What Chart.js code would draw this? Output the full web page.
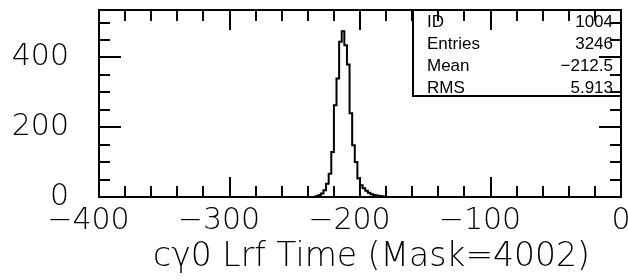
<!DOCTYPE html>
<html>
<head>
<meta charset="utf-8">
<script src="https://cdn.jsdelivr.net/npm/chart.js@4.4.1/dist/chart.umd.min.js"></script>
<style>
  html, body { margin: 0; padding: 0; background: #fff; }
  #wrap { width: 628px; height: 280px; }
</style>
</head>
<body>
<div id="wrap"><canvas id="myChart"></canvas></div>
<script>
// histogram: bin centres (bin width 2) and entries per bin
const binCenters = [-237, -235, -233, -231, -229, -227, -225, -223, -221, -219, -217, -215,
  -213, -211, -209, -207, -205, -203, -201, -199, -197, -195, -193, -191, -189, -187,
  -185, -183, -181, -179, -177];
const counts = [0, 0, 2, 5, 10, 19, 38, 67, 129, 263, 340, 445,
  475, 435, 380, 240, 148, 100, 53, 34, 25, 18, 12, 8, 6, 4,
  3, 2, 1, 0, 0];

const xTickValues = [-400, -300, -200, -100, 0];
const yTickValues = [0, 200, 400];
const xTitle = "c\u03b30 Lrf Time (Mask=4002)";

const statLabels = ["ID", "Entries", "Mean", "RMS"];
const statValues = ["1004", "3246", "\u2212212.5", "5.913"];

const mainFont = "'DejaVu Sans', 'Liberation Sans', sans-serif";

// inward ticks on all four sides + frame
const frameTicks = {
  id: "frameTicks",
  afterDraw(chart) {
    const { ctx, chartArea: a, scales: { x, y } } = chart;
    ctx.save();
    ctx.strokeStyle = "#000";
    ctx.lineWidth = 2;
    ctx.beginPath();
    for (let v = -400; v <= 0; v += 20) {
      const px = Math.round(x.getPixelForValue(v));
      const len = v % 100 === 0 ? 20 : 11;
      ctx.moveTo(px, a.bottom);
      ctx.lineTo(px, a.bottom - len);
      ctx.moveTo(px, a.top);
      ctx.lineTo(px, a.top + len);
    }
    for (let v = 50; v < 536; v += 50) {
      const py = Math.round(y.getPixelForValue(v));
      const len = v % 200 === 0 ? 22 : 11;
      ctx.moveTo(a.left, py);
      ctx.lineTo(a.left + len, py);
      ctx.moveTo(a.right, py);
      ctx.lineTo(a.right - len, py);
    }
    ctx.stroke();
    ctx.strokeRect(a.left, a.top, a.right - a.left, a.bottom - a.top);
    ctx.restore();
  },
};

// stats box, top right
const statBox = {
  id: "statBox",
  afterDraw(chart) {
    const { ctx, chartArea: a } = chart;
    const left = 413, bottom = 96;
    ctx.save();
    ctx.strokeStyle = "#000";
    ctx.lineWidth = 2;
    ctx.strokeRect(left, a.top, a.right - left, bottom - a.top);
    ctx.fillStyle = "#000";
    ctx.font = "17px 'Liberation Sans Narrow', 'Liberation Sans', sans-serif";
    ctx.textBaseline = "middle";
    statLabels.forEach((lab, i) => {
      const ty = 22 + i * 22;
      ctx.textAlign = "left";
      ctx.fillText(lab, left + 14, ty);
      ctx.textAlign = "right";
      ctx.fillText(statValues[i], a.right - 8, ty);
    });
    ctx.restore();
  },
};

const ctx = document.getElementById("myChart");

const myChart = new Chart(ctx, {
  type: "scatter",
  data: {
    datasets: [
      {
        data: binCenters.map((c, i) => ({ x: c, y: counts[i] })),
        showLine: true,
        stepped: "middle",
        borderColor: "#000",
        borderWidth: 2,
        pointRadius: 0,
        fill: false,
      },
    ],
  },
  options: {
    responsive: true,
    maintainAspectRatio: false,
    animation: false,
    layout: { padding: { top: 10, right: 7, left: 0, bottom: 0 } },
    plugins: {
      legend: { display: false },
      tooltip: { enabled: false },
    },
    scales: {
      x: {
        type: "linear",
        min: -400,
        max: 0,
        grid: { display: false, drawTicks: false },
        border: { display: false },
        afterBuildTicks(scale) {
          scale.ticks = xTickValues.map((v) => ({ value: v }));
        },
        afterFit(scale) {
          scale.height = 83;
          scale.paddingLeft = 0;
          scale.paddingRight = 0;
        },
        ticks: {
          color: "#000",
          padding: 6,
          maxRotation: 0,
          font: { family: mainFont, size: 30, weight: 200 },
          callback: (v) => (v < 0 ? "\u2212" + Math.abs(v) + "\u2002\u2009" : String(v)),
        },
        title: {
          display: true,
          // leading spaces nudge the title a little to the right, like the original
          text: "\u2002\u2009" + xTitle,
          color: "#000",
          padding: { top: 0, bottom: 3 },
          font: { family: mainFont, size: 33, weight: 200 },
        },
      },
      y: {
        min: 0,
        max: 536,
        grid: { display: false, drawTicks: false },
        border: { display: false },
        afterBuildTicks(scale) {
          scale.ticks = yTickValues.map((v) => ({ value: v }));
        },
        afterFit(scale) {
          scale.width = 99;
          scale.paddingTop = 0;
          scale.paddingBottom = 0;
        },
        ticks: {
          color: "#000",
          padding: 30,
          font: { family: mainFont, size: 30, weight: 200 },
        },
      },
    },
  },
  plugins: [frameTicks, statBox],
});
</script>
</body>
</html>
